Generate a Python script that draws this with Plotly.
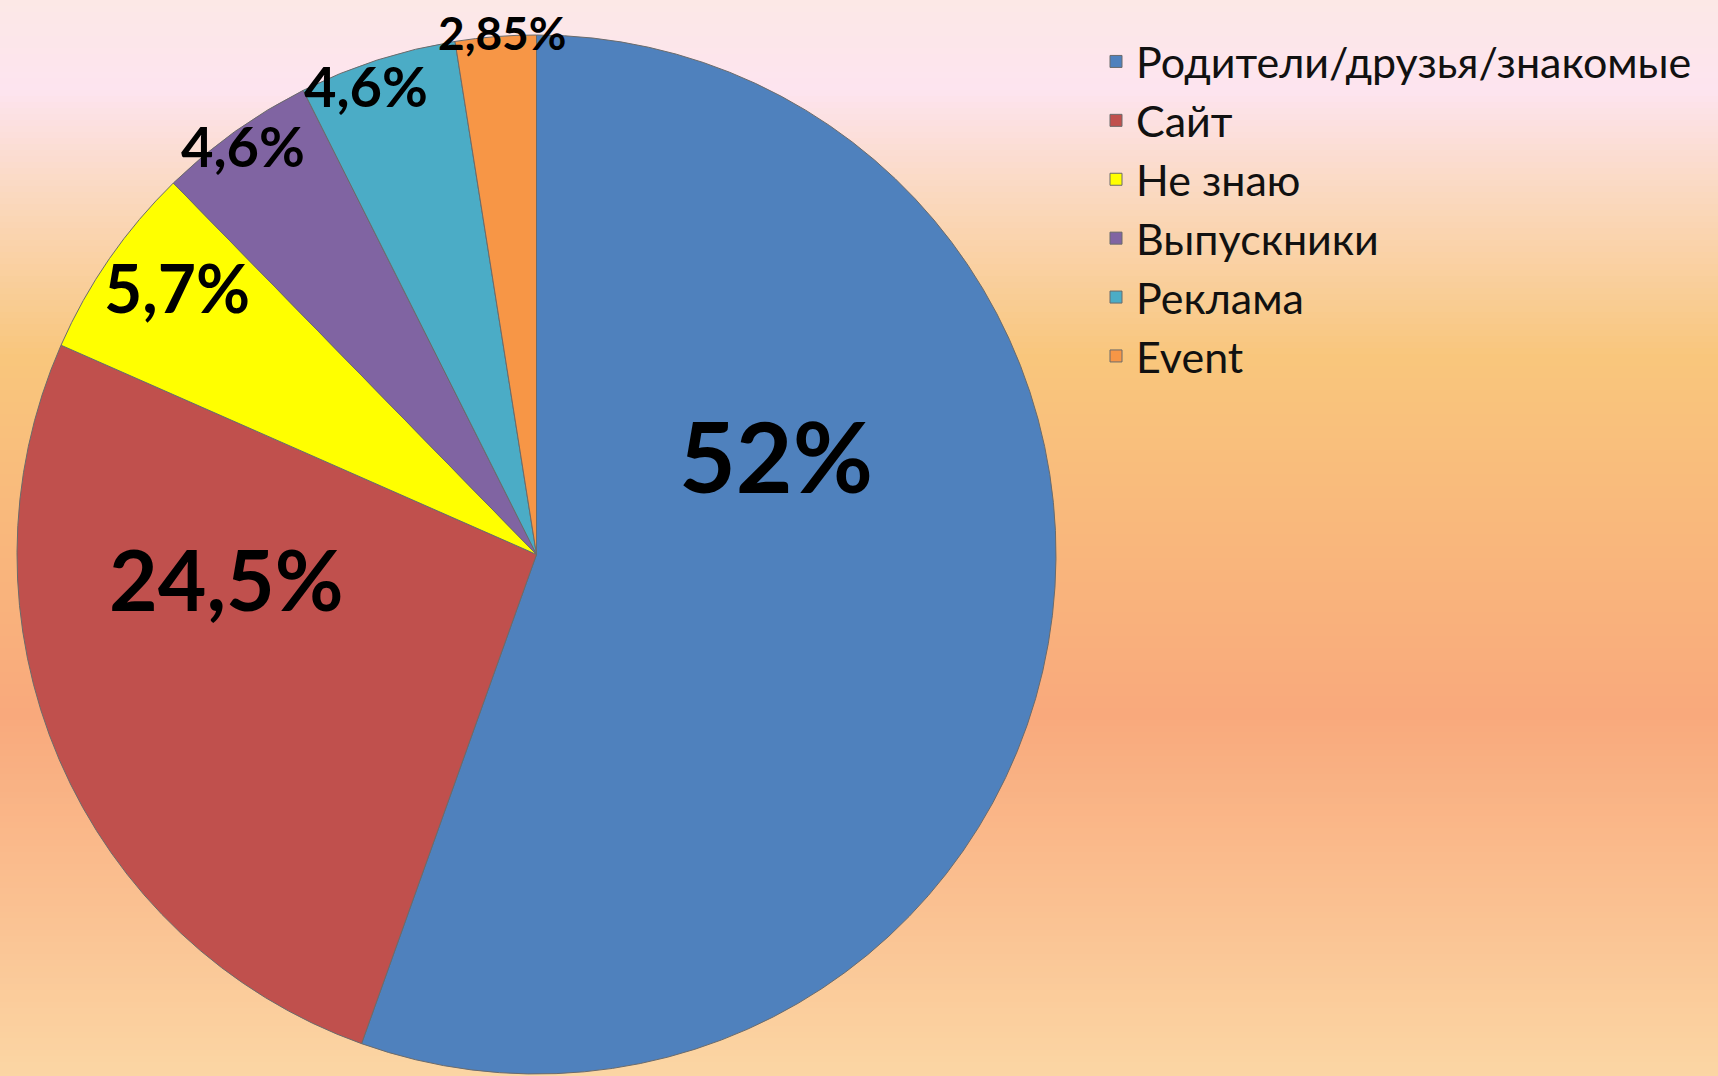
import plotly.graph_objects as go

# ---- data ----
categories = ["Родители/друзья/знакомые", "Сайт", "Не знаю", "Выпускники", "Реклама", "Event"]
# slice sizes as drawn in the picture (the Event slice is drawn smaller than its label)
values = [52, 24.5, 5.7, 4.6, 4.6, 2.35]
label_texts = ["52%", "24,5%", "5,7%", "4,6%", "4,6%", "2,85%"]

# ---- styling ----
colors = ["#4f81bd", "#c0504d", "#ffff00", "#8064a2", "#4bacc6", "#f79646"]
W, H = 1718, 1076
# label placement (pixel centres) and font sizes
label_px = [(776, 455), (226, 578), (177, 287), (243, 146), (366, 86), (503, 33)]
label_sizes = [98, 84, 66, 56, 56, 46]

fig = go.Figure()
fig.add_trace(go.Pie(
    labels=categories,
    values=values,
    sort=False,
    direction="clockwise",
    rotation=0,
    textinfo="none",
    marker=dict(colors=colors, line=dict(color="#6b6b6b", width=1)),
    domain=dict(x=[16 / W, 1057 / W], y=[2 / H, 1041 / H]),
))

annotations = []
for txt, (px, py), sz in zip(label_texts, label_px, label_sizes):
    annotations.append(dict(
        x=px / W, y=1 - py / H, xref="paper", yref="paper",
        text=txt, showarrow=False, xanchor="center", yanchor="middle",
        font=dict(family="Lato", size=sz, color="#000000", weight="bold"),
    ))

# background gradient
stops = [(0, (252, 232, 230)), (90, (253, 228, 239)), (200, (250, 216, 189)),
         (357, (249, 198, 124)), (714, (249, 169, 124)), (1076, (251, 214, 164))]

def col_at(y):
    for (y0, c0), (y1, c1) in zip(stops[:-1], stops[1:]):
        if y0 <= y <= y1:
            t = (y - y0) / (y1 - y0)
            return "rgb(%d,%d,%d)" % tuple(round(a + (b - a) * t) for a, b in zip(c0, c1))
    return "rgb(%d,%d,%d)" % stops[-1][1]

shapes = []
step = 6
for y in range(0, H, step):
    shapes.append(dict(type="rect", xref="paper", yref="paper",
                       x0=0, x1=1, y0=1 - (y + step + 1) / H, y1=1 - y / H,
                       fillcolor=col_at(y + step / 2), line=dict(width=0), layer="below"))

fig.update_layout(
    width=W, height=H,
    margin=dict(l=0, r=0, t=0, b=0),
    paper_bgcolor=col_at(500),
    plot_bgcolor="rgba(0,0,0,0)",
    shapes=shapes,
    annotations=annotations,
    showlegend=True,
    legend=dict(x=1096 / W, y=1 - 27 / H, xanchor="left", yanchor="top",
                font=dict(family="Lato", size=43, color="#111111"),
                bgcolor="rgba(0,0,0,0)", tracegroupgap=0),
)

fig.write_html("out.html", config={"displayModeBar": False},
               post_script="document.body.style.margin='0';document.body.style.overflow='hidden';")
